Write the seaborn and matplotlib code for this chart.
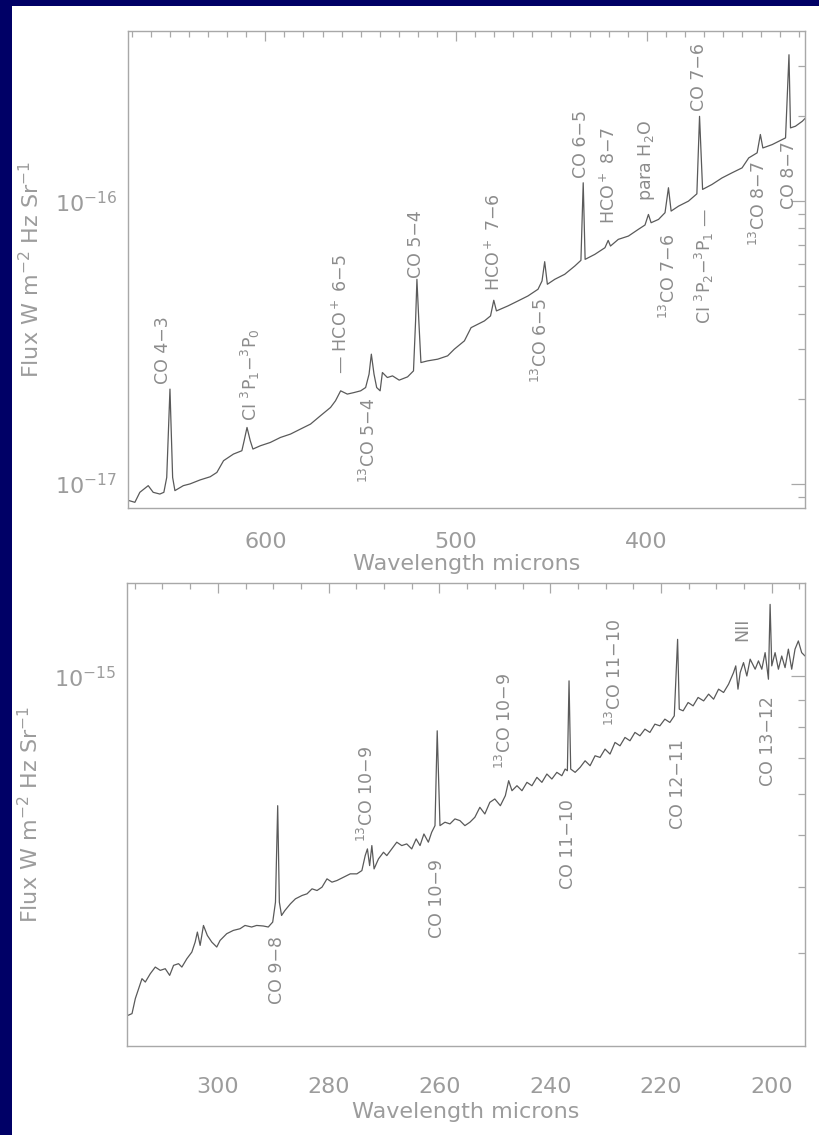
import matplotlib
matplotlib.use("Agg")
import matplotlib.pyplot as plt
import numpy as np
import pandas as pd
import seaborn as sns
from matplotlib.patches import Rectangle
from matplotlib.ticker import MultipleLocator, FixedLocator, NullFormatter, LogFormatterSciNotation

# ---------------- data ----------------
# Upper panel: wavelength (microns) and flux (units of 1e-17 W m^-2 Hz^-1 sr^-1)
top_wavelength = [671.4, 668.4, 665.8, 661.4, 658.8, 655.3, 653.2, 651.7, 650.0, 648.6,
                  647.4, 643.0, 639.5, 634.2, 628.9, 625.4, 621.9, 616.7, 612.3, 611.1,
                  609.6, 607.9, 606.5, 602.6, 597.4, 592.1, 586.8, 581.6, 576.3, 571.1,
                  565.8, 563.2, 560.5, 557.0, 553.5, 550.0, 547.4, 545.6, 544.4, 543.0,
                  541.6, 539.8, 538.6, 536.0, 533.3, 529.8, 525.4, 522.3, 521.2, 520.5,
                  519.5, 518.4, 514.9, 509.6, 504.4, 500.9, 495.6, 492.1, 485.1, 481.9,
                  480.2, 478.8, 472.8, 467.5, 462.3, 457.0, 454.9, 453.5, 452.1, 448.2,
                  443.0, 437.7, 434.5, 433.3, 432.3, 427.2, 421.9, 420.2, 419.0, 414.9,
                  409.6, 404.4, 400.9, 399.1, 397.7, 393.8, 390.4, 388.6, 387.2, 383.3,
                  378.1, 373.7, 372.3, 370.7, 365.8, 360.5, 355.3, 350.0, 346.5, 342.1,
                  340.4, 339.1, 334.2, 327.2, 325.4, 324.6, 322.0, 318.4, 316.7]
top_flux = [0.871, 0.859, 0.932, 0.984, 0.932, 0.919, 0.932, 1.052, 2.161, 1.052,
            0.945, 0.984, 0.998, 1.031, 1.058, 1.096, 1.206, 1.273, 1.308, 1.419,
            1.581, 1.419, 1.326, 1.362, 1.399, 1.457, 1.498, 1.560, 1.625, 1.739,
            1.861, 1.965, 2.131, 2.075, 2.101, 2.131, 2.189, 2.441, 2.873, 2.441,
            2.189, 2.131, 2.474, 2.375, 2.407, 2.325, 2.388, 2.507, 3.767, 5.288,
            3.767, 2.683, 2.720, 2.758, 2.834, 2.992, 3.202, 3.566, 3.767, 3.924,
            4.457, 4.087, 4.256, 4.433, 4.616, 4.876, 5.216, 6.104, 5.078, 5.288,
            5.508, 5.893, 6.171, 11.61, 6.221, 6.480, 6.840, 7.261, 6.934, 7.322,
            7.521, 7.943, 8.23, 8.97, 8.385, 8.615, 9.098, 11.15, 9.22, 9.60,
            10.0, 10.61, 19.95, 11.0, 11.45, 12.08, 12.59, 13.11, 14.22, 14.82,
            17.21, 15.42, 15.85, 16.74, 32.96, 18.16, 18.41, 19.17, 19.7]
TOP_UNIT = 1e-17

# Lower panel: wavelength (microns) and flux (units of 1e-16 W m^-2 Hz^-1 sr^-1)
bottom_wavelength = [316.2, 315.5, 314.9, 314.3, 313.7, 313.1, 312.2, 311.3, 310.4, 309.5,
                     308.7, 308.0, 307.1, 306.5, 305.6, 304.7, 304.1, 303.7, 303.2, 302.6,
                     301.9, 301.1, 300.2, 299.6, 298.4, 297.2, 296.0, 295.1, 293.9, 293.0,
                     291.8, 290.9, 290.1, 289.6, 289.2, 288.9, 288.5, 287.9, 286.9, 286.0,
                     284.8, 283.9, 283.0, 282.1, 281.2, 280.3, 279.4, 278.5, 277.3, 276.1,
                     274.9, 274.0, 273.4, 273.0, 272.6, 272.2, 271.8, 271.0, 270.1, 269.5,
                     268.6, 267.7, 266.8, 265.9, 265.0, 264.2, 263.5, 262.8, 262.0, 261.4,
                     260.8, 260.4, 259.9, 259.0, 258.1, 257.2, 256.3, 255.4, 254.5, 253.6,
                     252.7, 251.8, 250.9, 250.0, 249.0, 248.1, 247.5, 246.9, 246.0, 245.1,
                     244.2, 243.3, 242.4, 241.5, 240.6, 239.7, 238.8, 237.9, 237.3, 236.9,
                     236.6, 236.3, 235.5, 234.6, 233.7, 232.8, 231.9, 231.0, 230.1, 229.2,
                     228.3, 227.4, 226.5, 225.6, 224.7, 223.8, 222.9, 222.0, 221.1, 220.2,
                     219.3, 218.4, 217.6, 217.0, 216.7, 216.0, 215.1, 214.2, 213.3, 212.3,
                     211.4, 210.5, 209.6, 208.7, 207.8, 206.9, 206.5, 206.1, 205.7, 205.1,
                     204.5, 203.9, 203.0, 202.4, 201.8, 201.2, 200.6, 200.3, 200.0, 199.4,
                     198.8, 198.2, 197.6, 197.0, 196.4, 195.8, 195.2, 194.6, 194.0]
bottom_flux = [2.286, 2.303, 2.459, 2.567, 2.681, 2.642, 2.740, 2.820, 2.780, 2.800,
               2.720, 2.841, 2.862, 2.820, 2.924, 3.010, 3.144, 3.284, 3.099, 3.380,
               3.236, 3.144, 3.077, 3.167, 3.261, 3.308, 3.332, 3.380, 3.357, 3.380,
               3.372, 3.357, 3.430, 3.741, 5.692, 3.741, 3.530, 3.607, 3.714, 3.795,
               3.851, 3.879, 3.964, 3.935, 3.993, 4.140, 4.081, 4.110, 4.171, 4.231,
               4.231, 4.292, 4.581, 4.716, 4.386, 4.785, 4.323, 4.516, 4.648, 4.581,
               4.716, 4.856, 4.785, 4.820, 4.716, 4.926, 4.785, 5.033, 4.856, 5.070,
               5.219, 7.885, 5.219, 5.297, 5.258, 5.374, 5.334, 5.219, 5.297, 5.413,
               5.652, 5.491, 5.776, 5.861, 5.692, 5.946, 6.346, 6.076, 6.209, 6.076,
               6.301, 6.209, 6.439, 6.301, 6.533, 6.393, 6.581, 6.485, 6.676, 6.628,
               9.80, 6.676, 6.581, 6.725, 6.921, 6.774, 7.073, 7.023, 7.282, 7.126,
               7.496, 7.387, 7.661, 7.551, 7.830, 7.716, 7.943, 7.830, 8.117, 8.058,
               8.296, 8.177, 8.416, 11.74, 8.664, 8.602, 8.919, 8.790, 9.117, 8.982,
               9.25, 9.049, 9.452, 9.316, 9.659, 10.16, 10.46, 9.452, 10.16, 10.61,
               10.01, 10.77, 10.31, 10.69, 10.31, 11.08, 9.87, 13.67, 10.46, 11.08,
               10.31, 10.92, 10.38, 11.25, 10.31, 11.25, 11.66, 11.08, 10.92]
BOTTOM_UNIT = 1e-16

# Y-axis tick values (labelled decades and unlabelled minor ticks)
top_major_yticks = [1e-17, 1e-16]
top_minor_yticks = [9e-18, 2e-17, 3e-17, 4e-17, 5e-17, 6e-17, 7e-17, 8e-17, 9e-17, 2e-16, 3e-16]
bottom_major_yticks = [1e-15]
bottom_minor_yticks = [3e-16, 4e-16, 5e-16, 6e-16, 7e-16, 8e-16, 9e-16]

# Line identifications: (label, wavelength of label, flux anchor (panel units), side)
top_lines = [
    ("CO 4\u22123", 653.7, 2.26, "above"),
    ("CI $^3$P$_1$\u2212$^3$P$_0$", 607.9, 1.67, "above"),
    ("\u2014 HCO$^+$ 6\u22125", 560.5, 2.45, "above"),
    ("$^{13}$CO 5\u22124", 545.8, 2.01, "below"),
    ("CO 5\u22124", 521.1, 5.34, "above"),
    ("HCO$^+$ 7\u22126", 480.0, 4.81, "above"),
    ("$^{13}$CO 6\u22125", 455.3, 4.54, "below"),
    ("CO 6\u22125", 434.2, 12.05, "above"),
    ("HCO$^+$ 8\u22127", 420.0, 8.3, "above"),
    ("para H$_2$O", 400.0, 10.0, "above"),
    ("$^{13}$CO 7\u22126", 388.4, 7.64, "below"),
    ("CI $^3$P$_2$\u2212$^3$P$_1$ \u2014", 369.5, 9.45, "below"),
    ("CO 7\u22126", 372.6, 20.8, "above"),
    ("$^{13}$CO 8\u22127", 341.1, 13.8, "below"),
    ("CO 8\u22127", 325.3, 16.3, "below"),
]
bottom_lines = [
    ("CO 9\u22128", 289.3, 3.23, "below"),
    ("$^{13}$CO 10\u22129", 273.05, 4.86, "above"),
    ("CO 10\u22129", 260.4, 4.52, "below"),
    ("$^{13}$CO 10\u22129", 248.1, 6.67, "above"),
    ("CO 11\u221210", 236.8, 5.86, "below"),
    ("$^{13}$CO 11\u221210", 228.3, 8.05, "above"),
    ("CO 12\u221211", 217.0, 7.59, "below"),
    ("NII", 205.4, 11.66, "above"),
    ("CO 13\u221212", 200.7, 9.18, "below"),
]

# ---------------- style ----------------
sns.set_theme(style="white")
plt.rcParams['font.family'] = ['DejaVu Sans']
plt.rcParams['mathtext.default'] = 'regular'
plt.rcParams['mathtext.fontset'] = 'dejavusans'

NAVY = '#000066'
AXCOL = '#a8a8a8'
TXTCOL = '#9c9c9c'
LINECOL = '#5a5a5a'

fig = plt.figure(figsize=(8.19, 11.35), dpi=100)
fig.patch.set_facecolor(NAVY)

# white page inside the navy frame (drawn beneath the axes)
fig.add_artist(Rectangle((12 / 819, 0), 1 - 12 / 819, 1 - 6 / 1135,
                         transform=fig.transFigure, facecolor='white',
                         edgecolor='none', zorder=-5))

ax_top = fig.add_axes([0.1563, 0.5524, 0.8266, 0.4203], zorder=2)
ax_bot = fig.add_axes([0.1551, 0.0784, 0.8278, 0.4079], zorder=2)


def draw_panel(ax, wl, flux, unit, lines, xlim, ylim, xmaj, xmin,
               ymajor, yminor, xpad, labpad):
    df = pd.DataFrame({'wavelength': wl, 'flux': np.array(flux) * unit})
    ax.set_yscale('log')
    sns.lineplot(data=df, x='wavelength', y='flux', ax=ax, color=LINECOL,
                 linewidth=0.9, estimator=None, sort=False)
    ax.set_xlim(*xlim)
    ax.set_ylim(*ylim)
    ax.set_facecolor('white')
    for s in ax.spines.values():
        s.set_color(AXCOL)
        s.set_linewidth(1.0)
    ax.xaxis.set_major_locator(MultipleLocator(xmaj))
    ax.xaxis.set_minor_locator(MultipleLocator(xmin))
    ax.yaxis.set_major_locator(FixedLocator(ymajor))
    ax.yaxis.set_major_formatter(LogFormatterSciNotation())
    ax.yaxis.set_minor_locator(FixedLocator(yminor))
    ax.yaxis.set_minor_formatter(NullFormatter())
    ax.tick_params(which='both', direction='in', top=True, right=True,
                   color=AXCOL, labelcolor=TXTCOL, labelsize=16, width=0.9)
    ax.tick_params(axis='x', which='major', length=7, pad=xpad)
    ax.tick_params(axis='x', which='minor', length=4)
    ax.tick_params(axis='y', which='major', length=10, pad=8)
    ax.tick_params(axis='y', which='minor', length=5)
    ax.set_xlabel('Wavelength microns', fontsize=16, color=TXTCOL, labelpad=labpad)
    ax.set_ylabel('Flux W m$^{-2}$ Hz Sr$^{-1}$', fontsize=16, color=TXTCOL, labelpad=8)
    for text, x, y, side in lines:
        ax.text(x, y * unit, text, rotation=90, ha='center',
                va='bottom' if side == 'above' else 'top',
                fontsize=12.5, color='#8c8c8c')


draw_panel(ax_top, top_wavelength, top_flux, TOP_UNIT, top_lines,
           (672, 317), (8.2e-18, 4.0e-16), 100, 10,
           top_major_yticks, top_minor_yticks, 17, 2)
draw_panel(ax_bot, bottom_wavelength, bottom_flux, BOTTOM_UNIT, bottom_lines,
           (316.4, 194.0), (2.0e-16, 1.5e-15), 20, 5,
           bottom_major_yticks, bottom_minor_yticks, 22, 4)

fig.savefig('out.png', dpi=100, facecolor=fig.get_facecolor())
